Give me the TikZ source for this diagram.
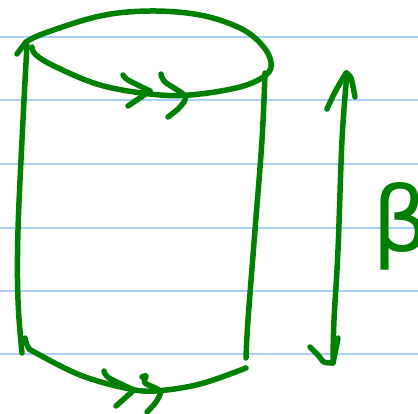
\documentclass[tikz,border=0pt]{standalone}
\usepackage{fontspec}
\newfontfamily\betafont{DejaVu Sans}
\definecolor{ink}{RGB}{0,128,0}
\definecolor{rule}{RGB}{168,208,255}
\begin{document}
\begin{tikzpicture}[x=1pt,y=-1pt,
  pen/.style={draw=ink,line width=5.5pt,line cap=round,line join=round},
  ruleline/.style={draw=rule,line width=2pt}]
\useasboundingbox (0,0) rectangle (418,414);
\begin{scope}
\clip (0,0) rectangle (418,414);
% ruled lines
\foreach \yy in {37,100,164,228,291,354}
  \draw[ruleline] (0,\yy) -- (418,\yy);
% top ellipse
\draw[pen] plot[smooth,tension=0.6] coordinates {(26,42) (45,33) (100,16) (150,11) (200,15) (240,28) (262,45) (271,62) (266,75) (240,87) (190,95) (150,94) (100,85) (56,67) (36,55) (32,47)};
\draw[pen] (17,54) -- (26,42);
% left side
\draw[pen] plot[smooth,tension=0.6] coordinates {(27,45) (23,120) (18,230) (18,300) (22,353)};
% right side
\draw[pen] plot[smooth,tension=0.6] coordinates {(265,73) (262,140) (255,230) (248,320) (246,358)};
% bottom curve
\draw[pen] plot[smooth,tension=0.6] coordinates {(25,338) (28,347) (36,353) (80,375) (125,388) (155,391) (200,384) (246,368)};
% top chevrons
\draw[pen] plot[smooth,tension=0.5] coordinates {(123,75) (128,80) (150,91)};
\draw[pen] (150,91) -- (128,106);
\draw[pen] plot[smooth,tension=0.5] coordinates {(161,74) (165,82) (185,96) (180,107) (168,117)};
% bottom chevrons
\draw[pen] plot[smooth,tension=0.5] coordinates {(104,371) (109,378) (134,390)};
\draw[pen] (134,390) -- (116,406);
\draw[pen] plot[smooth,tension=0.5] coordinates {(142,377) (146,376) (145,383) (160,391) (156,402) (147,412)};
% double-headed arrow
\draw[pen] plot[smooth,tension=0.6] coordinates {(347,73) (342,140) (338,250) (334,320) (333,362)};
\draw[pen] plot[smooth,tension=0.5] coordinates {(327,109) (335,92) (346,73)};
\draw[pen] plot[smooth,tension=0.5] coordinates {(346,73) (351,78) (355,97)};
\draw[pen] plot[smooth,tension=0.5] coordinates {(310,347) (318,355) (324,362) (333,363)};
\draw[pen] (338,338) -- (333,363);
% beta
\node[text=ink,font=\betafont\fontsize{90}{90}\selectfont,anchor=base west,inner sep=0pt] (beta) at (372,252) {β};
\end{scope}
\end{tikzpicture}
\end{document}
